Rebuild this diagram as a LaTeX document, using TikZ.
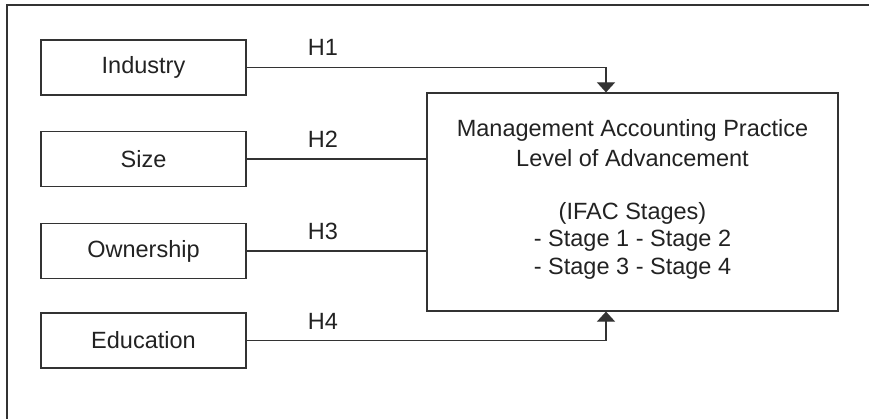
\documentclass[tikz,border=0pt]{standalone}
\usepackage{fontspec}
\setmainfont{Liberation Sans}
\usetikzlibrary{arrows.meta}
\definecolor{ln}{HTML}{333333}
\definecolor{tx}{HTML}{222222}
\begin{document}
\begin{tikzpicture}[x=1pt,y=-1pt,
  every node/.style={text=tx,font=\fontsize{23.5pt}{28pt}\selectfont},
  varbox/.style={draw=ln,line width=1.2pt,minimum width=205pt,minimum height=55pt,inner sep=0pt},
  mainbox/.style={draw=ln,line width=1.2pt,minimum width=411pt,minimum height=218pt,inner sep=0pt,align=center},
  conn/.style={draw=ln,line width=1.2pt},
  arr/.style={conn,-{Triangle[length=10pt,width=18pt]}},
  hlab/.style={inner sep=0pt}]
\useasboundingbox (0,0) rectangle (869,419);
\draw[ln,line width=1.3pt] (7,425) -- (7,5) -- (875,5);
\node[varbox] (ind) at (143.5,67.5) {Industry};
\node[varbox] (siz) at (143.5,159) {Size};
\node[varbox] (own) at (143.5,251) {Ownership};
\node[varbox] (edu) at (143.5,340.5) {Education};
\node[mainbox] (mac) at (632.5,202) {};
\node at (632.5,130) {Management Accounting Practice};
\node at (632.5,158) {Level of Advancement};
\node at (632.5,213) {(IFAC Stages)};
\node at (632.5,241) {- Stage 1 - Stage 2};
\node at (632.5,269) {- Stage 3 - Stage 4};
\coordinate (c1) at (606,67.5);
\coordinate (c4) at (606,340.5);
\draw[arr] (ind.east) -- (c1) -- (mac.north -| c1);
\draw[conn] (siz.east) -- (siz.east -| mac.west);
\draw[conn] (own.east) -- (own.east -| mac.west);
\draw[arr] (edu.east) -- (c4) -- (mac.south -| c4);
\node[hlab] (h1) at (323,47) {H1};
\node[hlab] (h2) at (323,139) {H2};
\node[hlab] (h3) at (323,231) {H3};
\node[hlab] (h4) at (323,321) {H4};
\end{tikzpicture}
\end{document}
